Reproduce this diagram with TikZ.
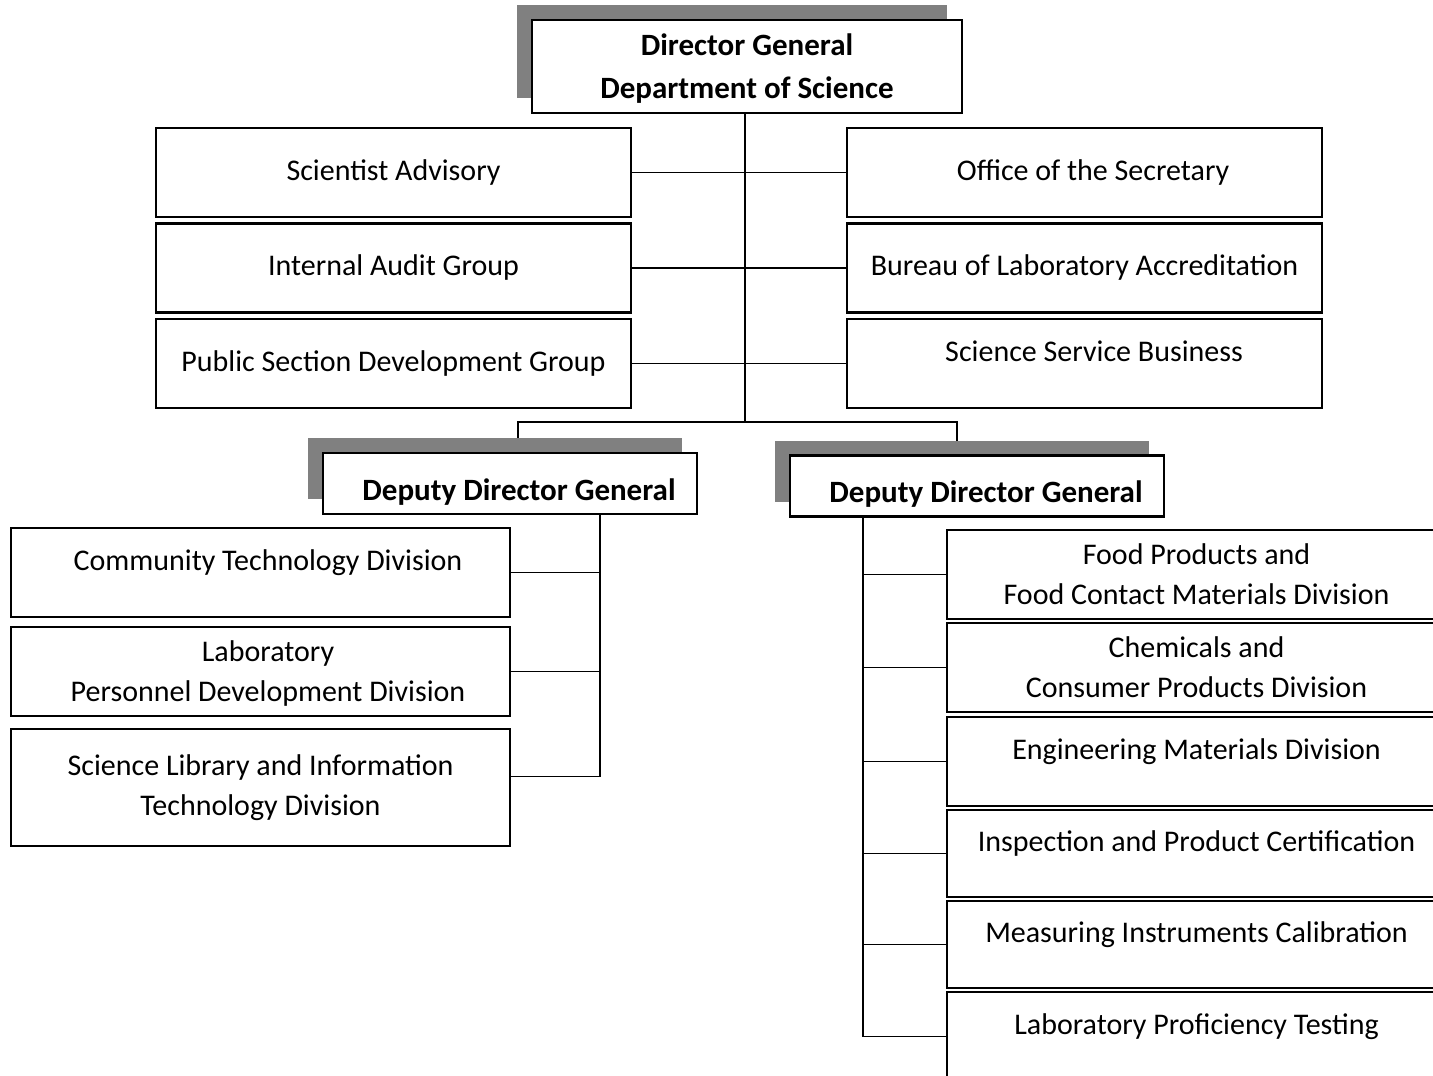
\documentclass[tikz,border=0pt]{standalone}
\usepackage{fontspec}
\setmainfont{Carlito}
\usepackage{xcolor}
\definecolor{maubong}{HTML}{808080}
\def\mauvien{black}
\usepackage{tikz}
\usetikzlibrary{calc,shadows,backgrounds}

\begin{document}
\begin{tikzpicture}[x=0.5pt,y=-0.5pt]
	\tikzset{
		hop/.style={draw=\mauvien,line width=1.1pt,fill=white,align=center,inner sep=2pt,font=\fontsize{15}{20}\selectfont},
		hopnho/.style={hop,minimum width=237.5pt,minimum height=44.5pt},
		hopduoi/.style={hop,minimum width=249.5pt,minimum height=44.5pt},
		hopchinh/.style={hop,font=\bfseries\fontsize{15.5}{21.5}\selectfont,general shadow={fill=maubong,shadow xshift=-7.5pt,shadow yshift=7.5pt}},
		caolen/.style={text depth=12pt},
		hathap/.style={text depth=-3pt},
		noi/.style={line width=0.9pt,draw=\mauvien}
	}
	\useasboundingbox (0,0) rectangle (1433,1075);
	\clip (0,0) rectangle (1433,1075);
	%% director general
	\node[hopchinh,hathap,minimum width=215pt,minimum height=46.5pt] (dg) at (747,66.5) {Director General\\Department of Science};
	%% hai cot tren
	\node[hopnho] (sa) at (393.5,172.5) {Scientist Advisory};
	\node[hopnho] (ia) at (393.5,268) {Internal Audit Group};
	\node[hopnho] (ps) at (393.5,363.5) {Public Section Development Group};
	\node[hopnho] (os) at (1084.5,172.5) {\hspace*{8.5pt}Office of the Secretary};
	\node[hopnho] (bl) at (1084.5,268) {Bureau of Laboratory Accreditation};
	\node[hopnho,caolen] (ss) at (1084.5,363.5) {\hspace*{9.5pt}Science Service Business};
	%% deputy
	\node[hopchinh,text height=19pt,minimum width=187pt,minimum height=30.5pt] (dd1) at (510,483.5) {\hspace*{9pt}Deputy Director General};
	\node[hopchinh,text height=19pt,minimum width=187pt,minimum height=30.5pt] (dd2) at (977,486) {\hspace*{9pt}Deputy Director General};
	%% nhanh trai
	\node[hopduoi,caolen] (ct) at (260.5,572.5) {\hspace*{7.5pt}Community Technology Division};
	\node[hopduoi,hathap] (lp) at (260.5,671.5) {\hspace*{7.5pt}Laboratory\\\hspace*{7.5pt}Personnel Development Division};
	\node[hopduoi,minimum height=58.5pt] (sl) at (260.5,787.5) {Science Library and Information\\Technology Division};
	%% nhanh phai
	\node[hopduoi,hathap] (fp) at (1196.5,574.5) {Food Products and\\Food Contact Materials Division};
	\node[hopduoi,hathap] (cp) at (1196.5,667.5) {Chemicals and\\Consumer Products Division};
	\node[hopduoi,caolen] (em) at (1196.5,761.5) {Engineering Materials Division};
	\node[hopduoi,caolen,minimum height=43.5pt] (ip) at (1196.5,853.5) {Inspection and Product Certification};
	\node[hopduoi,caolen,minimum height=43.5pt] (mi) at (1196.5,944.5) {Measuring Instruments Calibration};
	\node[hopduoi,caolen] (lt) at (1196.5,1036.5) {Laboratory Proficiency Testing};
	%%%
	\begin{scope}[on background layer]
		\coordinate (nhanh) at (745,422);
		\draw[noi] (dg.south -| nhanh) -- (nhanh);
		\foreach \a/\b in {sa/os,ia/bl,ps/ss}{%
			\draw[noi] (\a.east) -- (\b.west);
		}
		\draw[noi] ([xshift=4pt]dd1.north) |- (nhanh) -| ([xshift=-10pt]dd2.north);
		%%
		\coordinate (truc1) at ([xshift=45pt]dd1.south);
		\draw[noi] (truc1) |- ([yshift=5.5pt]sl.east);
		\foreach \n in {ct,lp}{%
			\draw[noi] (\n.east) -- (\n.east -| truc1);
		}
		%%
		\coordinate (truc2) at ([xshift=-57pt]dd2.south);
		\draw[noi] (truc2) |- (lt.west);
		\foreach \n in {fp,cp,em,ip,mi}{%
			\draw[noi] (\n.west) -- (\n.west -| truc2);
		}
	\end{scope}
\end{tikzpicture}
\end{document}
